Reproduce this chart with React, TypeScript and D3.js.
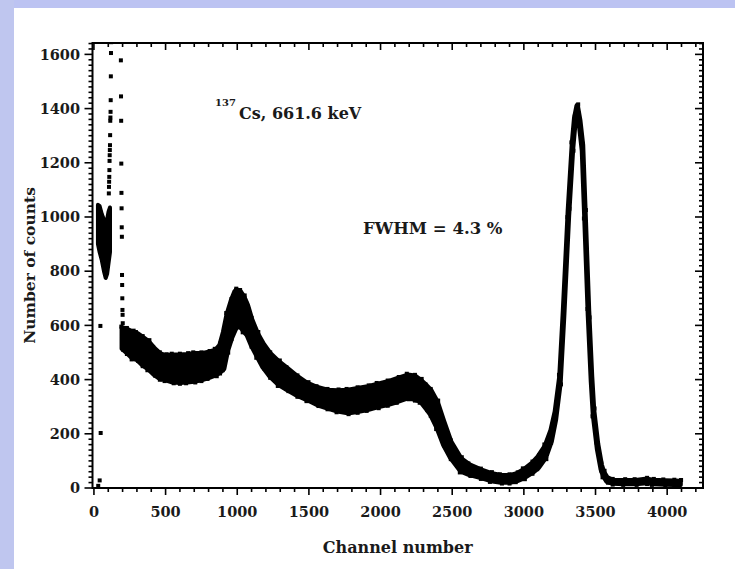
import React from "react";
import * as d3 from "d3";

// Main spectrum band: channel, upper and lower extent of the scattered counts
const bandChannels = [198, 230, 270, 300, 340, 380, 420, 460, 500, 550, 600, 650, 700, 750, 800, 850, 880, 905, 930, 960, 985, 1000, 1020, 1045, 1070, 1100, 1140, 1180, 1230, 1290, 1350, 1420, 1490, 1560, 1630, 1700, 1770, 1840, 1910, 1980, 2050, 2120, 2190, 2240, 2280, 2320, 2350, 2395, 2440, 2490, 2560, 2620, 2700, 2770, 2840, 2900, 2950, 3000, 3060, 3100, 3150, 3190, 3220, 3252, 3277, 3311, 3339, 3355, 3372, 3390, 3409, 3426, 3451, 3472, 3486, 3514, 3540, 3556, 3580, 3620, 3700, 3780, 3860, 3900, 3980, 4050, 4090];
const bandUpper = [590, 585, 575, 570, 555, 540, 515, 495, 488, 490, 490, 492, 495, 495, 500, 508, 527, 575, 640, 692, 725, 730, 725, 705, 675, 622, 570, 532, 495, 465, 440, 410, 385, 370, 360, 358, 360, 366, 373, 382, 391, 404, 416, 412, 397, 377, 360, 317, 245, 170, 108, 85, 66, 53, 45, 45, 52, 67, 92, 115, 155, 212, 282, 412, 655, 1025, 1270, 1365, 1410, 1355, 1265, 1020, 655, 412, 288, 162, 85, 58, 38, 28, 27, 27, 32, 28, 26, 25, 24];
const bandLower = [515, 500, 480, 475, 455, 440, 420, 405, 400, 392, 390, 392, 395, 400, 408, 418, 428, 440, 505, 555, 585, 600, 598, 580, 565, 527, 486, 447, 412, 382, 363, 342, 326, 308, 296, 285, 278, 283, 290, 300, 309, 320, 333, 328, 320, 293, 272, 223, 161, 112, 63, 50, 39, 28, 22, 22, 27, 38, 58, 75, 112, 172, 252, 388, 632, 1005, 1250, 1345, 1398, 1335, 1245, 1000, 635, 392, 270, 145, 70, 45, 25, 18, 17, 17, 20, 17, 15, 14, 13];

// Low-channel cluster
const clusterChannels = [28, 40, 55, 70, 82, 92, 102, 112];
const clusterUpper = [1045, 1040, 1010, 990, 960, 990, 1020, 1035];
const clusterLower = [900, 870, 840, 800, 775, 790, 830, 870];

// Individual sparse points (rising and falling edges of the low-energy peak)
const sparseChannels = [30, 40, 45, 47, 104, 105, 106, 107, 108, 109, 110, 111, 112, 113, 114, 115, 116, 117, 118, 119, 120, 188, 189, 190, 191, 192, 193, 194, 195, 196, 197, 198, 199, 200, 201];
const sparseCounts = [8, 28, 598, 203, 1087, 1111, 1130, 1148, 1173, 1207, 1228, 1247, 1265, 1302, 1355, 1367, 1388, 1431, 1519, 1605, 1645, 1578, 1445, 1355, 1197, 1089, 1032, 962, 927, 786, 749, 700, 657, 639, 608];

const xTicks = [0, 500, 1000, 1500, 2000, 2500, 3000, 3500, 4000];
const yTicks = [0, 200, 400, 600, 800, 1000, 1200, 1400, 1600];

const W = 735;
const H = 569;
const FONT = "'DejaVu Serif', serif";

export default function App() {
  const left = 92.5, right = 703, top = 43, bottom = 488;
  const x = d3.scaleLinear().domain([-10, 4250]).range([left, right]);
  const y = d3.scaleLinear().domain([0, 1642]).range([bottom, top]);

  const band = bandChannels.map((c, i) => ({ c, u: bandUpper[i], l: bandLower[i] }));
  const cluster = clusterChannels.map((c, i) => ({ c, u: clusterUpper[i], l: clusterLower[i] }));
  const area = d3
    .area<{ c: number; u: number; l: number }>()
    .x((d) => x(d.c))
    .y0((d) => y(d.l))
    .y1((d) => y(d.u));

  const xMinor = d3.range(0, 4250, 100);
  const yMinor = d3.range(0, 1641, 20);
  const ms = 4;

  return (
    <svg width={W} height={H} style={{ position: "absolute", left: 0, top: 0 }}>
      <rect x={0} y={0} width={W} height={H} fill="#ffffff" />
      <rect x={0} y={0} width={W} height={8} fill="#bcc3f2" />
      <rect x={0} y={0} width={14} height={H} fill="#bfc6ef" />

      <defs>
        <clipPath id="plotclip">
          <rect x={left} y={top} width={right - left} height={bottom - top} />
        </clipPath>
      </defs>
      <g clipPath="url(#plotclip)">
        <path d={area(band) || ""} fill="#000" stroke="#000" strokeWidth={5.5} strokeLinejoin="round" />
        <path d={area(cluster) || ""} fill="#000" stroke="#000" strokeWidth={4} strokeLinejoin="round" />
        {band.map((d, i) => (
          <g key={"m" + i}>
            <rect x={x(d.c) - ms / 2 + ((i % 3) - 1)} y={y(d.u) - ms / 2 - 1.5} width={ms} height={ms} fill="#000" />
            <rect x={x(d.c) - ms / 2 - ((i % 3) - 1)} y={y(d.l) - ms / 2 + 1.5} width={ms} height={ms} fill="#000" />
          </g>
        ))}
        {sparseChannels.map((c, i) => (
          <rect key={"s" + i} x={x(c) - ms / 2} y={y(sparseCounts[i]) - ms / 2} width={ms} height={ms} fill="#000" />
        ))}
      </g>

      {/* frame */}
      <rect x={left} y={top} width={right - left} height={bottom - top} fill="none" stroke="#000" strokeWidth={2} />

      {/* x ticks */}
      {xMinor.map((v) => {
        const major = v % 500 === 0;
        const len = major ? 7 : 4;
        return (
          <g key={"xt" + v}>
            <line x1={x(v)} x2={x(v)} y1={bottom} y2={bottom + len} stroke="#000" strokeWidth={1.6} />
            <line x1={x(v)} x2={x(v)} y1={top} y2={top + len} stroke="#000" strokeWidth={1.6} />
          </g>
        );
      })}
      {xTicks.map((v) => (
        <text key={"xl" + v} x={x(v)} y={517} textAnchor="middle" fontFamily={FONT} fontWeight="bold" fontSize={14.5} fill="#1a1a1a">
          {v}
        </text>
      ))}

      {/* y ticks */}
      {yMinor.map((v) => {
        const major = v % 200 === 0;
        const len = major ? 8 : 4;
        return (
          <g key={"yt" + v}>
            <line x1={left - len} x2={left} y1={y(v)} y2={y(v)} stroke="#000" strokeWidth={1.6} />
            <line x1={right - len} x2={right} y1={y(v)} y2={y(v)} stroke="#000" strokeWidth={1.6} />
          </g>
        );
      })}
      {yTicks.map((v) => (
        <text key={"yl" + v} x={80} y={y(v)} dy="0.36em" textAnchor="end" fontFamily={FONT} fontWeight="bold" fontSize={14.5} fill="#1a1a1a">
          {v}
        </text>
      ))}

      {/* axis titles */}
      <text x={(left + right) / 2} y={553} textAnchor="middle" fontFamily={FONT} fontWeight="bold" fontSize={16} fill="#1a1a1a">
        Channel number
      </text>
      <text transform={`translate(35, ${(top + bottom) / 2}) rotate(-90)`} textAnchor="middle" fontFamily={FONT} fontWeight="bold" fontSize={15.5} fill="#1a1a1a">
        Number of counts
      </text>

      {/* annotations */}
      <text x={215} y={106} fontFamily={FONT} fontWeight="bold" fontSize={10} fill="#1a1a1a">137</text>
      <text x={239} y={119} fontFamily={FONT} fontWeight="bold" fontSize={16} fill="#1a1a1a">
        Cs, 661.6 keV
      </text>
      <text x={363} y={234} fontFamily={FONT} fontWeight="bold" fontSize={16.5} fill="#1a1a1a">
        FWHM = 4.3 %
      </text>
    </svg>
  );
}
